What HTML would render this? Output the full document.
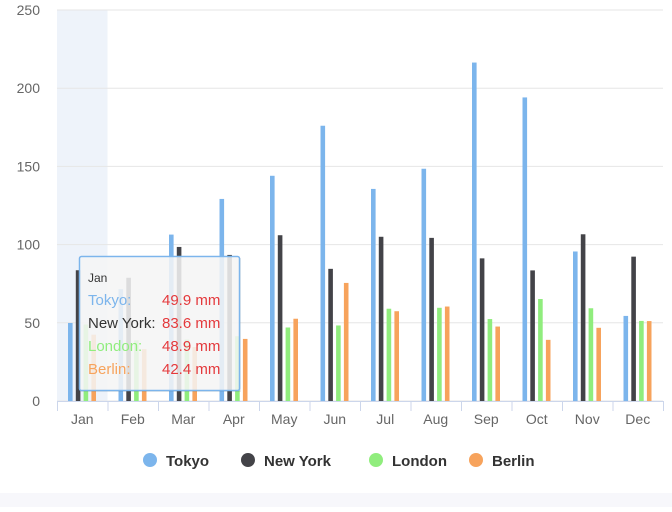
<!DOCTYPE html>
<html><head><meta charset="utf-8"><style>
html,body{margin:0;padding:0;background:#fff;}
body{width:672px;height:507px;overflow:hidden;font-family:"Liberation Sans",sans-serif;}
</style></head><body>
<svg id="chart" width="672" height="507" xmlns="http://www.w3.org/2000/svg" font-family="Liberation Sans, sans-serif">
<rect x="0" y="493" width="672" height="14" fill="#f7f7fb"/>
<g id="grid"></g><g id="bars"></g><g id="axes"></g><g id="legend"></g><g id="tip"></g>
</svg>
<script>
const categories=['Jan','Feb','Mar','Apr','May','Jun','Jul','Aug','Sep','Oct','Nov','Dec'];
const seriesNames=['Tokyo','New York','London','Berlin'];
const tokyo=[49.9,71.5,106.4,129.2,144.0,176.0,135.6,148.5,216.4,194.1,95.6,54.4];
const newYork=[83.6,78.8,98.5,93.4,106.0,84.5,105.0,104.3,91.2,83.5,106.6,92.3];
const london=[48.9,38.8,39.3,41.4,47.0,48.3,59.0,59.6,52.4,65.2,59.3,51.2];
const berlin=[42.4,33.2,34.5,39.7,52.6,75.5,57.4,60.4,47.6,39.1,46.8,51.1];
const yTicks=[0,50,100,150,200,250];
const colors=['#7cb5ec','#434348','#90ed7d','#f7a35c'];
const NS='http://www.w3.org/2000/svg';
const L=57,R=663,T=10,B=401,yMax=250;
const cw=(R-L)/categories.length;
const y=v=>B-(v/yMax)*(B-T);
const xc=i=>L+i*cw;
function mk(tag,attrs,parent,text){const e=document.createElementNS(NS,tag);for(const k in attrs)e.setAttribute(k,attrs[k]);if(text!==undefined)e.textContent=text;document.getElementById(parent).appendChild(e);return e;}
// hover band
let band=mk('rect',{x:xc(0),y:T,width:cw,height:B-T,fill:'#eef3fa'},'grid');


yTicks.forEach(t=>{
 let g=mk('line',{x1:L,x2:R,y1:y(t),y2:y(t),stroke:'#e6e6e6'},'grid');
 
 
 let tx=mk('text',{x:40,y:y(t)+5,'text-anchor':'end','font-size':14,fill:'#666'},'axes',String(t));
 
 
});
const data=[tokyo,newYork,london,berlin];
data.forEach((s,si)=>s.forEach((v,i)=>{
 let r=mk('rect',{x:xc(i)+11+si*7.8,y:y(v),width:4.6,height:B-y(v),fill:colors[si]},'bars');
 
 
}));
let ax=mk('line',{x1:L,x2:R,y1:B+0.5,y2:B+0.5,stroke:'#ccd6eb'},'axes');


categories.forEach((c,i)=>{
 let tk=mk('line',{x1:xc(i)+0.5,x2:xc(i)+0.5,y1:B,y2:B+10,stroke:'#ccd6eb'},'axes');
 
 
 let t=mk('text',{x:xc(i)+cw/2,y:424,'text-anchor':'middle','font-size':14,fill:'#666'},'axes',c);
 
 
});
let tke=mk('line',{x1:R+0.5,x2:R+0.5,y1:B,y2:B+10,stroke:'#ccd6eb'},'axes');


const legX=[150,248,376,476];
seriesNames.forEach((n,i)=>{
 let g=mk('g',{},'legend');
 
 
 let c=document.createElementNS(NS,'circle');c.setAttribute('cx',legX[i]);c.setAttribute('cy',460);c.setAttribute('r',7);c.setAttribute('fill',colors[i]);g.appendChild(c);
 let t=document.createElementNS(NS,'text');t.setAttribute('x',legX[i]+16);t.setAttribute('y',466);t.setAttribute('font-size',15);t.setAttribute('font-weight','bold');t.setAttribute('fill','#333');t.textContent=n;g.appendChild(t);
});
// tooltip
let tg=mk('g',{},'tip');


let sh=document.createElementNS(NS,'rect');sh.setAttribute('x',81);sh.setAttribute('y',258);sh.setAttribute('width',160);sh.setAttribute('height',134);sh.setAttribute('fill','rgba(0,0,0,0.08)');tg.appendChild(sh);
let bx=document.createElementNS(NS,'rect');bx.setAttribute('x',79.5);bx.setAttribute('y',256.5);bx.setAttribute('width',160);bx.setAttribute('height',134);bx.setAttribute('rx',2);bx.setAttribute('fill','rgba(248,248,248,0.85)');bx.setAttribute('stroke','#7cb5ec');bx.setAttribute('stroke-width',1.5);tg.appendChild(bx);
function tt(x,yy,s,fs,col){let t=document.createElementNS(NS,'text');t.setAttribute('x',x);t.setAttribute('y',yy);t.setAttribute('font-size',fs);t.setAttribute('fill',col);t.textContent=s;tg.appendChild(t);}
tt(88,282,categories[0],12,'#333');
const tipColors=['#7cb5ec','#333','#90ed7d','#f7a35c'];
seriesNames.forEach((n,i)=>{
 tt(88,305+i*23,n+':',15,tipColors[i]);
 tt(162,305+i*23,data[i][0].toFixed(1)+' mm',15,'#e4393c');
});
</script>
</body></html>
